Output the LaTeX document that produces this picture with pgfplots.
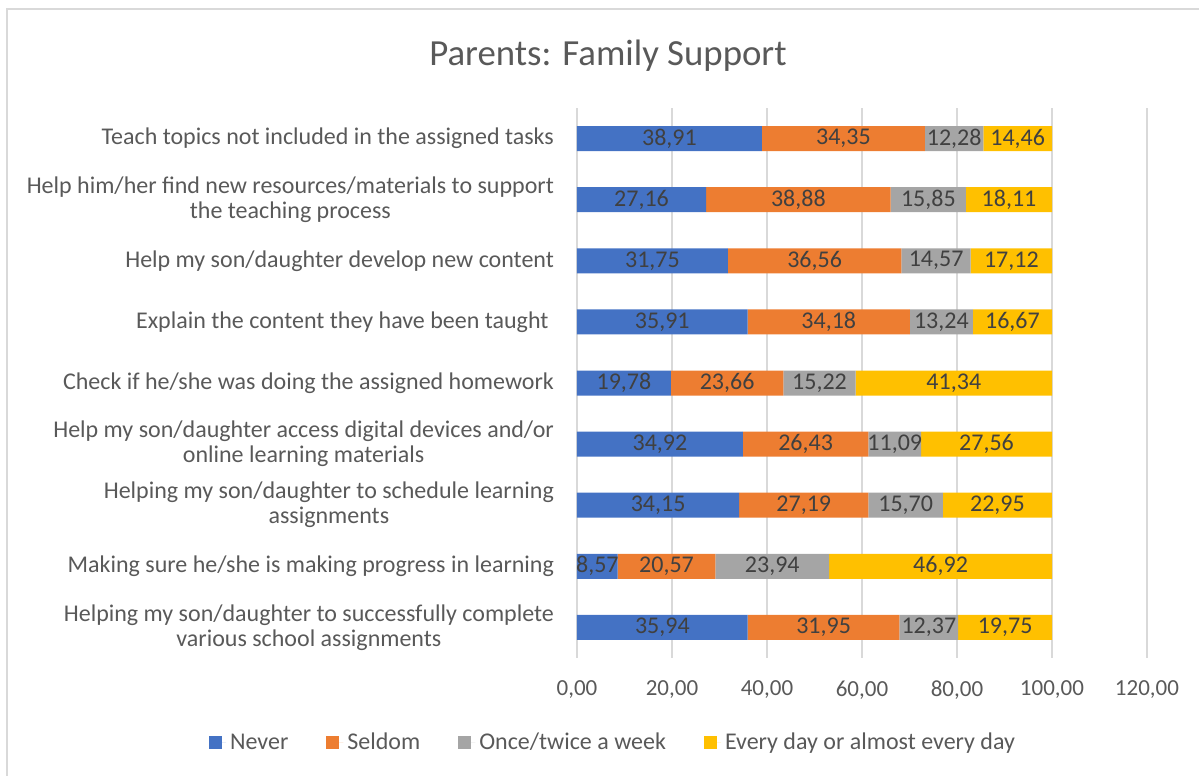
\documentclass[border=0pt]{standalone}
\usepackage{pgfplots}
\pgfplotsset{compat=1.18}
\usepackage{fontspec}
\setmainfont{Carlito}
\definecolor{cNever}{HTML}{4472C4}
\definecolor{cSeldom}{HTML}{ED7D31}
\definecolor{cOnce}{HTML}{A5A5A5}
\definecolor{cEvery}{HTML}{FFC000}
\definecolor{txt}{HTML}{595959}
\definecolor{lbl}{HTML}{404040}
\definecolor{gridc}{HTML}{D9D9D9}
\begin{document}
\begin{tikzpicture}
\path[use as bounding box] (0,0) rectangle (599.5pt,-388pt);
\draw[color=gridc, line width=1pt] (3.5pt,-388pt) -- (3.5pt,-4.5pt) -- (599.5pt,-4.5pt);
\node[font=\fontsize{18.4}{22}\selectfont, text=txt] at (304pt,-28pt) {Parents: Family Support};
\begin{axis}[
  at={(288.5pt,-54pt)}, anchor=north west,
  scale only axis, width=285pt, height=275pt,
  xbar stacked, bar width=12.5pt,
  xmin=0, xmax=120, ymin=-0.5, ymax=8.5, y dir=reverse,
  xtick={0,20,...,120}, ytick={0,...,8},
  yticklabels={
    {Teach topics not included in the assigned tasks},
    {Help him/her find new resources/materials to support\\the teaching process},
    {Help my son/daughter develop new content},
    {Explain the content they have been taught\ },
    {Check if he/she was doing the assigned homework},
    {Help my son/daughter access digital devices and/or\\online learning materials},
    {Helping my son/daughter to schedule learning\\assignments},
    {Making sure he/she is making progress in learning},
    {Helping my son/daughter to successfully complete\\various school assignments}},
  yticklabel style={align=center, font=\fontsize{12}{12.5}\selectfont, text=txt, xshift=-8pt},
  xticklabel style={font=\fontsize{11.5}{12}\selectfont, text=txt, yshift=-8pt},
  xmajorgrids, grid style={color=gridc, line width=0.75pt},
  axis line style={draw=none}, major tick length=0pt,
  /pgf/number format/.cd, fixed, fixed zerofill, precision=2, use comma, 1000 sep={}, assume math mode=true,
  /pgfplots/.cd,
  point meta=rawx,
  nodes near coords,
  nodes near coords style={anchor=center, font=\fontsize{12}{12}\selectfont, text=lbl},
  legend columns=4,
  legend style={at={(axis description cs:0.065,-0.1545)}, anchor=center, draw=none, fill=none,
    font=\fontsize{12}{12}\selectfont, text=txt,
    /tikz/every even column/.append style={column sep=17pt}},
  legend image code/.code={\fill[#1,draw=none] (0pt,-3.25pt) rectangle (6.5pt,3.25pt); \path (0pt,0pt) -- (8.5pt,0pt);},
]
\addplot[fill=cNever, draw=none] coordinates {(38.91,0) (27.16,1) (31.75,2) (35.91,3) (19.78,4) (34.92,5) (34.15,6) (8.57,7) (35.94,8)};
\addplot[fill=cSeldom, draw=none] coordinates {(34.35,0) (38.88,1) (36.56,2) (34.18,3) (23.66,4) (26.43,5) (27.19,6) (20.57,7) (31.95,8)};
\addplot[fill=cOnce, draw=none] coordinates {(12.28,0) (15.85,1) (14.57,2) (13.24,3) (15.22,4) (11.09,5) (15.70,6) (23.94,7) (12.37,8)};
\addplot[fill=cEvery, draw=none] coordinates {(14.46,0) (18.11,1) (17.12,2) (16.67,3) (41.34,4) (27.56,5) (22.95,6) (46.92,7) (19.75,8)};
\legend{Never, Seldom, Once/twice a week, Every day or almost every day}
\end{axis}
\end{tikzpicture}
\end{document}
